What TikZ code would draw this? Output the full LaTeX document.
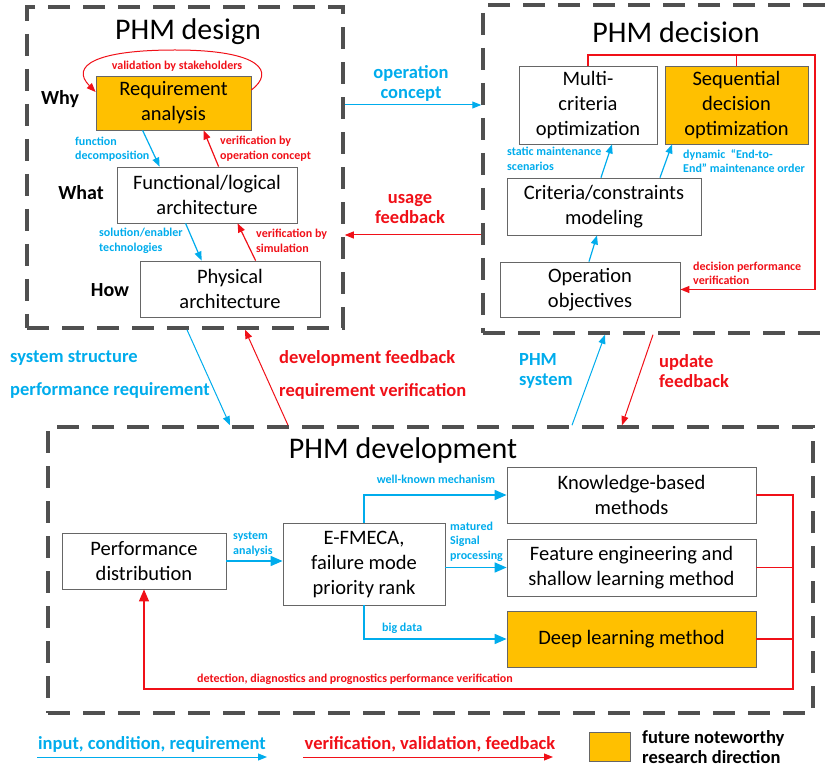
\documentclass[tikz,border=0pt]{standalone}
\usepackage{fontspec}
\setmainfont{Carlito}
\usetikzlibrary{arrows.meta}

\definecolor{inblue}{RGB}{0,172,236}
\definecolor{fbred}{RGB}{240,16,24}
\definecolor{futcol}{RGB}{255,192,0}
\definecolor{zonegray}{RGB}{80,80,80}

\newcommand\phmbox{\fontsize{20.5}{25}\selectfont}
\newcommand\phmtitle{\fontsize{30}{36}\selectfont}
\newcommand\phmlevel{\fontsize{20}{24}\selectfont\bfseries}
\newcommand\phmmid{\fontsize{18.5}{20}\selectfont\bfseries}
\newcommand\phmsmall{\fontsize{12}{14.5}\selectfont\bfseries}

\begin{document}
\begin{tikzpicture}[x=1pt, y=-1pt,
    procbox/.style = {draw=black!60, line width=0.8pt, align=center, font=\phmbox, inner sep=0pt},
    futbox/.style = {procbox, fill=futcol},
    zonebox/.style = {draw=zonegray, line width=3.5pt, dash pattern=on 22pt off 13pt},
    inarr/.style = {draw=inblue, line width=1pt, -{Triangle[length=9pt, width=7pt]}},
    fbarr/.style = {draw=fbred, line width=1pt, -{Triangle[length=9pt, width=7pt]}},
    devarr/.style = {draw=inblue, line width=1.6pt, -{Triangle[length=12pt, width=10pt]}},
    devfb/.style = {draw=fbred, line width=1.2pt},
    inlab/.style = {text=inblue, font=\phmsmall, align=left, inner sep=0pt},
    fblab/.style = {text=fbred, font=\phmsmall, align=left, inner sep=0pt},
    inmid/.style = {text=inblue, font=\phmmid, align=left, inner sep=0pt},
    fbmid/.style = {text=fbred, font=\phmmid, align=left, inner sep=0pt}]
\useasboundingbox (0,0) rectangle (825,767);
\clip (0,0) rectangle (825,767);

% the three dashed zones
\node[zonebox, minimum width=316pt, minimum height=321pt] (design) at (185,167.5) {};
\node[zonebox, minimum width=357pt, minimum height=328pt] (decision) at (661.5,169) {};
\node[zonebox, minimum width=765pt, minimum height=286pt] (devel) at (430.5,570) {};

\node[font=\phmtitle, anchor=base] (desT) at (188,40) {PHM design};
\node[font=\phmtitle, anchor=base] (decT) at (676,43) {PHM decision};
\node[font=\phmtitle, anchor=base] (devT) at (403,458) {PHM development};

% PHM design
\node[futbox, minimum width=155pt, minimum height=54pt] (req) at (173.5,103) {Requirement\\analysis};
\node[procbox, minimum width=180pt, minimum height=56pt] (func) at (207,195) {Functional/logical\\architecture};
\node[procbox, minimum width=180pt, minimum height=56pt] (phys) at (230,289) {Physical\\architecture};
\node[font=\phmlevel, anchor=base] (why) at (60,105) {Why};
\node[font=\phmlevel, anchor=base] (what) at (81,200) {What};
\node[font=\phmlevel, anchor=base] (how) at (110,297) {How};

\draw[fbarr] ([yshift=13pt]req.east) .. controls (275,72) and (262,50) .. (175,50)
    .. controls (95,50) and (70,66) .. ([yshift=11pt]req.west);
\node[fblab, anchor=base] (valT) at (177,70) {validation by stakeholders};
\draw[inarr, line width=1.2pt] ([xshift=47pt]req.south west) -- ([xshift=43pt]func.north west);
\draw[fbarr, line width=1.2pt] ([xshift=102pt]func.north west) -- ([xshift=108pt]req.south west);
\draw[inarr, line width=1.2pt] ([xshift=69pt]func.south west) -- ([xshift=62pt]phys.north west);
\draw[fbarr, line width=1.2pt] ([xshift=116pt]phys.north west) -- ([xshift=121pt]func.south west);
\node[inlab, anchor=west] (fdT) at (75,149) {function\\decomposition};
\node[fblab, anchor=west] (vocT) at (220,148.5) {verification by\\operation concept};
\node[inlab, anchor=west] (setT) at (99,241) {solution/enabler\\technologies};
\node[fblab, anchor=west] (vsT) at (256,241) {verification by\\simulation};

% PHM decision
\node[procbox, minimum width=138pt, minimum height=78pt] (multi) at (588,105) {Multi-\\criteria\\optimization};
\node[futbox, minimum width=143pt, minimum height=78pt] (seq) at (736.5,105) {Sequential\\decision\\optimization};
\node[procbox, minimum width=194pt, minimum height=57pt] (crit) at (604,206.5) {Criteria/constraints\\modeling};
\node[procbox, minimum width=180pt, minimum height=55pt] (opobj) at (590,289.5) {Operation\\objectives};
\coordinate (dtop) at (815,55);

\draw[inarr, line width=1.2pt] ([xshift=-1pt]opobj.north) -- ([xshift=-7pt]crit.south);
\draw[inarr, line width=1.2pt] ([xshift=-3pt]crit.north) -- ([xshift=24pt]multi.south);
\draw[inarr, line width=1.2pt] ([xshift=56pt]crit.north) -- ([xshift=-64.5pt]seq.south);
\draw[fbarr, line width=1.2pt] (multi.north) |- (dtop) |- (opobj.east);
\draw[devfb] (seq.north) -- (seq.north |- dtop);
\node[inlab, anchor=west] (smsT) at (507,159) {static maintenance\\scenarios};
\node[inlab, anchor=west] (dmoT) at (683,161) {dynamic\ \ “End-to-\\End”\ maintenance order};
\node[fblab, anchor=west] (dpvT) at (693,273.5) {decision performance\\verification};

% between the zones
\draw[inarr] ([yshift=62.5pt]design.east) -- ([yshift=62.5pt]design.east -| decision.west);
\draw[fbarr] ([yshift=-66pt]decision.west) -- ([yshift=-66pt]decision.west -| design.east);
\node[inmid, align=center] (opcT) at (411,83.5) {operation\\concept};
\node[fbmid, align=center] (ufT) at (410,209) {usage\\feedback};

\draw[inarr] ([xshift=2pt]design.south) -- ([xshift=-200.5pt]devel.north);
\draw[fbarr] ([xshift=-142.5pt]devel.north) -- ([xshift=60pt]design.south);
\draw[inarr] ([xshift=141.5pt]devel.north) -- ([xshift=-56.5pt]decision.south);
\draw[fbarr] ([xshift=-8.5pt]decision.south) -- ([xshift=191.5pt]devel.north);
\node[inmid, anchor=west] (ssT) at (10,374.5) {system structure\\[13pt]performance requirement};
\node[fbmid, anchor=west] (dfT) at (279,374.5) {development feedback\\[13pt]requirement verification};
\node[inmid, anchor=west] (psT) at (519,371) {PHM\\system};
\node[fbmid, anchor=west] (ufbT) at (659,371) {update\\feedback};

% PHM development
\node[procbox, minimum width=164pt, minimum height=56pt] (perf) at (144,561) {Performance\\distribution};
\node[procbox, minimum width=162pt, minimum height=82pt] (fmeca) at (364,564) {E-FMECA,\\failure mode\\priority rank};
\node[procbox, minimum width=249pt, minimum height=56pt] (know) at (631.5,495) {Knowledge-based\\methods};
\node[procbox, minimum width=249pt, minimum height=57pt] (feat) at (631.5,567.5) {Feature engineering and\\shallow learning method};
\node[futbox, minimum width=249pt, minimum height=56pt] (deep) at (631.5,639) {Deep learning method};
\coordinate (fbk) at (793,689);

\draw[devarr] (perf.east) -- (perf.east -| fmeca.west);
\draw[devarr] (fmeca.north) |- (know.west);
\draw[devarr] (fmeca.east |- feat.west) -- (feat.west);
\draw[devarr] (fmeca.south) |- (deep.west);
\draw[devfb, -{Triangle[length=12pt, width=10pt]}] (know.east) -| (fbk) -| (perf.south);
\draw[devfb] (feat.east) -- (feat.east -| fbk);
\draw[devfb] (deep.east) -- (deep.east -| fbk);
\node[inlab, anchor=west] (saT) at (233,544) {system\\analysis};
\node[inlab, anchor=base] (wkmT) at (436,483) {well-known mechanism};
\node[inlab, anchor=west] (mspT) at (450,541.5) {matured\\Signal\\processing};
\node[inlab, anchor=base west] (bdT) at (382,631) {big data};
\node[fblab, anchor=base] (ddpT) at (355,682) {detection, diagnostics and prognostics performance verification};

% legend
\coordinate (lgin1) at (37,757);
\coordinate (lgin2) at (267,757);
\coordinate (lgfb1) at (303,757);
\coordinate (lgfb2) at (553,757);
\draw[inarr] (lgin1) -- (lgin2);
\draw[fbarr] (lgfb1) -- (lgfb2);
\node[inmid, anchor=base] (lginT) at (152,749) {input, condition, requirement};
\node[fbmid, anchor=base] (lgfbT) at (430,749) {verification, validation, feedback};
\node[futbox, minimum width=41pt, minimum height=29pt] (lgfut) at (609.5,746.5) {};
\node[font=\phmmid, align=left, anchor=west, inner sep=0pt] (lgfutT) at (642,747) {future noteworthy\\research direction};
\end{tikzpicture}
\end{document}
